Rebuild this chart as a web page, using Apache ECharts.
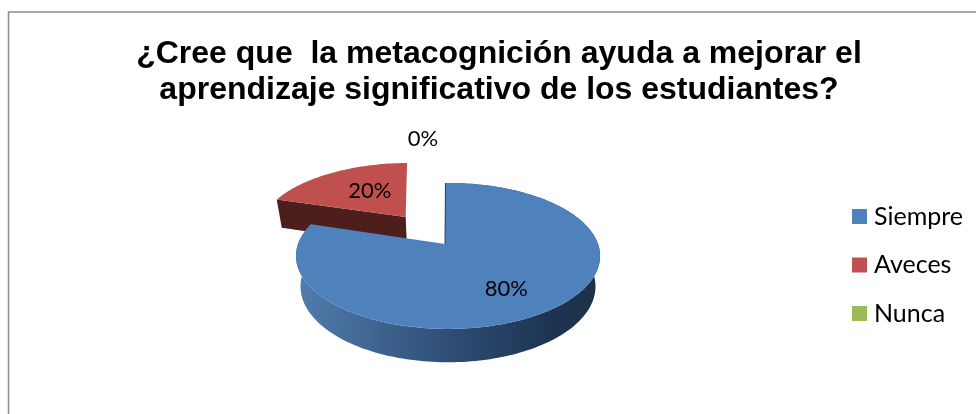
<!DOCTYPE html>
<html>
<head>
<meta charset="utf-8">
<style>
  html, body { margin: 0; padding: 0; background: #fff; }
  #chart { width: 976px; height: 414px; overflow: hidden; }
</style>
<script src="https://cdn.jsdelivr.net/npm/echarts@6/dist/echarts.min.js"></script>
</head>
<body>
<div id="chart"></div>
<script>
// data
const titleLines = ["¿Cree que  la metacognición ayuda a mejorar el", "aprendizaje significativo de los estudiantes?"];
const categories = ["Siempre", "Aveces", "Nunca"];
const values = [80, 20, 0];

// styles
const topColors = ["#4f81bd", "#c0504d", "#9bbb59"];
const sideColors = [
  new echarts.graphic.LinearGradient(0, 0, 1, 0, [
    { offset: 0, color: "#517dad" },
    { offset: 0.5, color: "#2f4e76" },
    { offset: 0.85, color: "#1d3350" },
    { offset: 1, color: "#1d3149" },
  ]),
  "#4d1f1c",
  "#5d7036",
];
const explode = [0, 0.5, 0];
// the original rim is a little off centre from the apex of each slice
const rimShift = [3, 0, 0];
const rimTurn = [-1.1, -1, 0];
const apexShift = [0, 2, 0];
// where each percent label sits: [angle shift in degrees, distance from the centre]
const labelAt = [[3, 0.68], [2, 1.02], [-5.7, 1.96]];

// tilted disc projection: unit circle on the table -> pixels
const cx = 445, cy = 244, R = 150, tiltR = 71, persp = 0.164;
const depth = 30, bottomShrink = 0.97;

function project(X, Y, lower) {
  const s = 1 / (1 + persp * Y);
  let x = R * X * s;
  let y = -tiltR * Y * s;
  if (lower) {
    x = x * bottomShrink;
    y = y * bottomShrink + depth * s;
  }
  return [cx + x, cy + y];
}

const total = values.reduce(function (a, b) { return a + b; }, 0);

function renderSlice(i, params, api) {
  const value = api.value(0);
  let before = 0;
  for (let k = 0; k < i; k++) before += values[k];
  const start = (before / total) * 2 * Math.PI;
  const end = ((before + value) / total) * 2 * Math.PI;
  const mid = (start + end) / 2;
  const ox = Math.sin(mid) * explode[i];
  const oy = Math.cos(mid) * explode[i];
  const turn = (rimTurn[i] * Math.PI) / 180;
  const children = [];

  if (value > 0) {
    const upper = [], lower = [];
    const steps = Math.max(8, Math.round((end - start) * 40));
    for (let n = 0; n <= steps; n++) {
      const a = start + ((end - start) * n) / steps + turn;
      const pu = project(ox + Math.sin(a), oy + Math.cos(a), false);
      const pl = project(ox + Math.sin(a), oy + Math.cos(a), true);
      upper.push([pu[0] + rimShift[i], pu[1]]);
      lower.push([pl[0] + rimShift[i], pl[1]]);
    }
    const apexUp = project(ox, oy, false);
    const apexLow = project(ox, oy, true);
    apexUp[0] += apexShift[i];
    apexLow[0] += apexShift[i];
    // the round side only shows on slices that reach the front of the pie
    if (Math.cos(mid) < 0) {
      children.push({
        type: "polygon",
        shape: { points: upper.concat(lower.slice().reverse()) },
        style: { fill: sideColors[i] },
      });
    }
    children.push({
      type: "polygon",
      shape: { points: [apexUp, upper[0], lower[0], apexLow] },
      style: { fill: sideColors[i] },
    });
    children.push({
      type: "polygon",
      shape: { points: [apexUp].concat(upper) },
      style: { fill: topColors[i] },
    });
    if (i === 0) {
      children.push({
        type: "polyline",
        shape: { points: [upper[0], apexUp] },
        style: { fill: null, stroke: "#24405f", lineWidth: 1 },
      });
    }
  }

  const labelAngle = mid + (labelAt[i][0] * Math.PI) / 180;
  const pos = project(Math.sin(labelAngle) * labelAt[i][1], Math.cos(labelAngle) * labelAt[i][1], false);
  children.push({
    type: "text",
    style: {
      text: Math.round((value / total) * 100) + "%",
      x: pos[0],
      y: pos[1],
      align: "center",
      verticalAlign: "middle",
      fill: "#000",
      font: '22px Lato',
    },
  });
  return { type: "group", children: children };
}

const chart = echarts.init(document.getElementById("chart"), null, { renderer: "canvas" });

chart.setOption({
  backgroundColor: "#fff",
  animation: false,
  title: {
    text: titleLines.join("\n"),
    left: 494,
    top: 31,
    textAlign: "center",
    textStyle: {
      fontFamily: "Liberation Sans",
      fontWeight: "bold",
      fontSize: 32,
      lineHeight: 36,
      color: "#000",
    },
  },
  legend: {
    data: categories,
    orient: "vertical",
    left: 852,
    top: 204,
    padding: 0,
    itemWidth: 15,
    itemHeight: 15,
    itemGap: 23.5,
    selectedMode: false,
    icon: "rect",
    textStyle: {
      fontFamily: "Lato",
      fontSize: 25,
      color: "#000",
      padding: [0, 0, 0, 2],
    },
  },
  graphic: [
    {
      type: "rect",
      silent: true,
      shape: { x: 8.5, y: 12, width: 1100, height: 600 },
      style: { fill: null, stroke: "#8c8c8c", lineWidth: 1.5 },
    },
  ],
  series: categories.map(function (name, i) {
    return {
      name: name,
      type: "custom",
      coordinateSystem: "none",
      silent: true,
      z: 3 - i,
      itemStyle: { color: topColors[i] },
      data: [[values[i]]],
      renderItem: function (params, api) {
        return renderSlice(i, params, api);
      },
    };
  }),
});
</script>
</body>
</html>
